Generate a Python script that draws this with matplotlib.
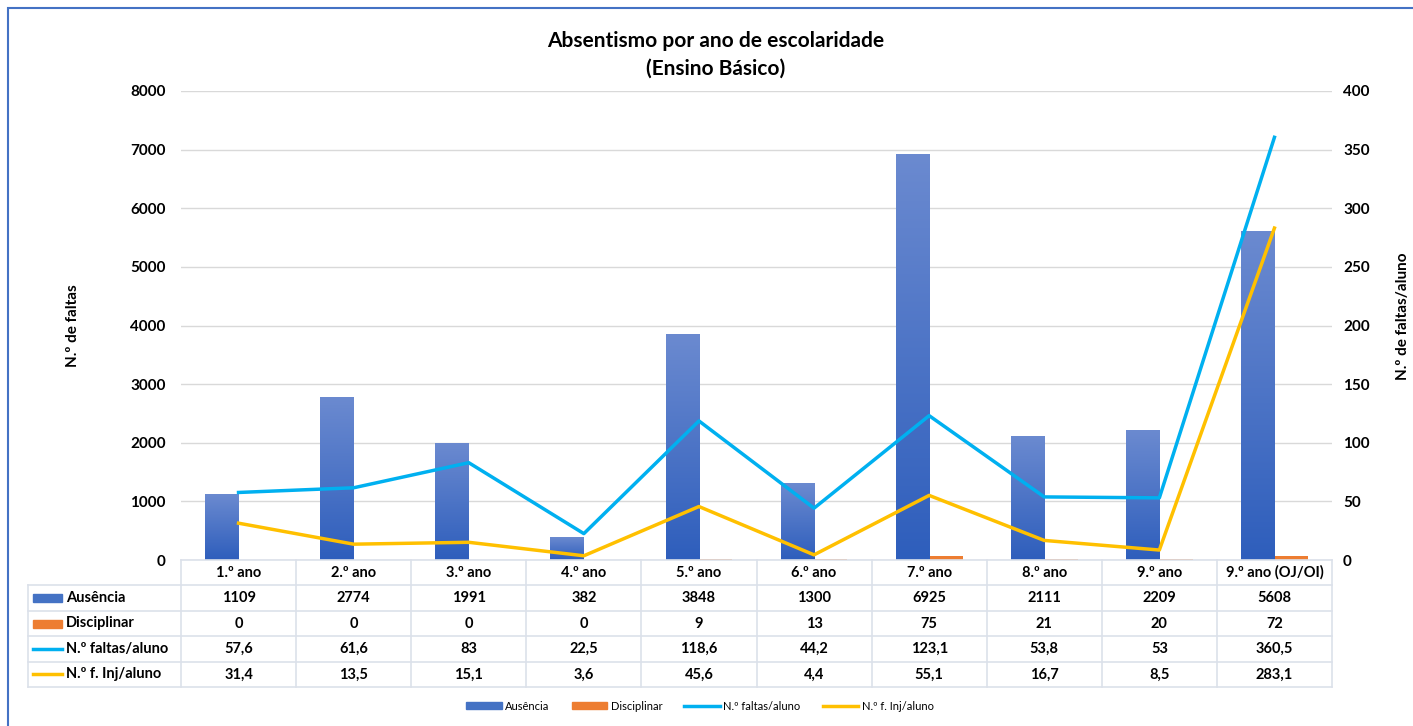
import matplotlib.pyplot as plt
import numpy as np
from matplotlib.colors import LinearSegmentedColormap
from matplotlib.lines import Line2D
from matplotlib.patches import Rectangle, Patch

plt.rcParams['font.family'] = ['Lato', 'DejaVu Sans']

# data
anos = ["1.º ano", "2.º ano", "3.º ano", "4.º ano", "5.º ano",
        "6.º ano", "7.º ano", "8.º ano", "9.º ano", "9.º ano (OJ/OI)"]
ausencia = [1109, 2774, 1991, 382, 3848, 1300, 6925, 2111, 2209, 5608]
disciplinar = [0, 0, 0, 0, 9, 13, 75, 21, 20, 72]
faltas_aluno = [57.6, 61.6, 83, 22.5, 118.6, 44.2, 123.1, 53.8, 53, 360.5]
inj_aluno = [31.4, 13.5, 15.1, 3.6, 45.6, 4.4, 55.1, 16.7, 8.5, 283.1]

c_aus = "#4472C4"
c_dis = "#ED7D31"
c_fal = "#00B0F0"
c_inj = "#FFC000"
grid_c = "#D9D9D9"
tab_c = "#DCE1EA"

W, H = 1413, 726
fig = plt.figure(figsize=(W / 100, H / 100), dpi=100)
ax = fig.add_axes([181 / W, 1 - 560 / H, 1151 / W, 469 / H])
ax2 = ax.twinx()

x = np.arange(len(anos))
bw = 0.29
bars = ax.bar(x - bw / 2, ausencia, bw, color="none", zorder=2)
ax.bar(x + bw / 2, disciplinar, bw, color=c_dis, zorder=2)

# gradient fill on the blue bars
cmap = LinearSegmentedColormap.from_list("g", ["#2E5EBC", "#6B8AD0"])
grad = np.linspace(0, 1, 256).reshape(-1, 1)
for r in bars:
    x0, w, h = r.get_x(), r.get_width(), r.get_height()
    ax.imshow(grad, extent=[x0, x0 + w, 0, h], origin="lower", aspect="auto",
              cmap=cmap, zorder=2)

ax2.plot(x, faltas_aluno, color=c_fal, lw=2.5, zorder=3)
ax2.plot(x, inj_aluno, color=c_inj, lw=2.5, zorder=3)

ax.set_xlim(-0.5, len(anos) - 0.5)
ax.set_ylim(0, 8000)
ax2.set_ylim(0, 400)
ax.set_yticks(range(0, 8001, 1000))
ax2.set_yticks(range(0, 401, 50))
ax.set_xticks([])
ax.yaxis.grid(True, color=grid_c, lw=1)
ax.set_axisbelow(True)
for a in (ax, ax2):
    for s in a.spines.values():
        s.set_visible(False)
    a.tick_params(length=0, labelsize=11)
    for t in a.get_yticklabels():
        t.set_fontweight("bold")
ax.tick_params(axis="y", pad=11)
ax2.tick_params(axis="y", pad=8)
ax.set_zorder(ax2.get_zorder() - 1)
ax2.patch.set_visible(False)

ax.set_ylabel("N.º de faltas", fontsize=11, fontweight="bold")
ax.yaxis.set_label_coords(-0.088, 0.5)
ax2.set_ylabel("N.º de faltas/aluno", fontsize=11, fontweight="bold")
ax2.yaxis.set_label_coords(1.056, 0.52)

fig.text(716 / W, 1 - 55 / H, "Absentismo por ano de escolaridade\n(Ensino Básico)",
         ha="center", va="center", fontsize=15, fontweight="bold", linespacing=1.45)

# data table under the plot (axes fraction coordinates)
px = 1 / 469.0
row_h = 25.4 * px
tr = ax.transAxes
left = (28 - 181) / 1151
n = len(anos)
nrows = 5
# horizontal lines
for i in range(nrows + 1):
    y = -i * row_h
    xl = 0 if i == 0 else left
    ax.add_line(Line2D([xl, 1], [y, y], transform=tr, color=tab_c, lw=1.2, clip_on=False))
# vertical lines
for j in range(n + 1):
    xv = j / n
    ax.add_line(Line2D([xv, xv], [0, -nrows * row_h], transform=tr, color=tab_c, lw=1.2, clip_on=False))
ax.add_line(Line2D([left, left], [-row_h, -nrows * row_h], transform=tr, color=tab_c, lw=1.2, clip_on=False))

def fmt(v):
    return f"{v:g}".replace(".", ",")

rows = [ausencia, disciplinar, faltas_aluno, inj_aluno]
for j, lab in enumerate(anos):
    ax.text((j + 0.5) / n, -0.5 * row_h, lab, transform=tr, ha="center", va="center",
            fontsize=10.5, fontweight="bold")
    for i, vals in enumerate(rows):
        ax.text((j + 0.5) / n, -(i + 1.5) * row_h, fmt(vals[j]), transform=tr,
                ha="center", va="center", fontsize=10.5, fontweight="bold")

row_names = ["Ausência", "Disciplinar", "N.º faltas/aluno", "N.º f. Inj/aluno"]
key_x0 = (33 - 181) / 1151
key_w = 29 / 1151
for i, name in enumerate(row_names):
    yc = -(i + 1.5) * row_h
    if i < 2:
        ax.add_patch(Rectangle((key_x0, yc - 4 * px), key_w, 8 * px, transform=tr,
                               color=[c_aus, c_dis][i], clip_on=False))
    else:
        ax.add_line(Line2D([key_x0, key_x0 + key_w], [yc, yc], transform=tr,
                           color=[c_fal, c_inj][i - 2], lw=2.5, clip_on=False))
    ax.text((66 - 181) / 1151, yc, name, transform=tr, ha="left", va="center",
            fontsize=10.5, fontweight="bold")

handles = [Patch(color=c_aus), Patch(color=c_dis),
           Line2D([], [], color=c_fal, lw=2.5), Line2D([], [], color=c_inj, lw=2.5)]
fig.legend(handles, row_names, loc="center", bbox_to_anchor=(700 / W, 1 - 706 / H),
           ncol=4, frameon=False, fontsize=8, handlelength=3.2, columnspacing=2.0,
           handleheight=0.6, handletextpad=0.3)

# chart frame
fig.add_artist(Rectangle((8 / W, -0.05), 1.1, 1 - 8 / H + 0.05, transform=fig.transFigure,
                         fill=False, edgecolor=c_aus, lw=1.5))

fig.savefig("out.png", dpi=100)
